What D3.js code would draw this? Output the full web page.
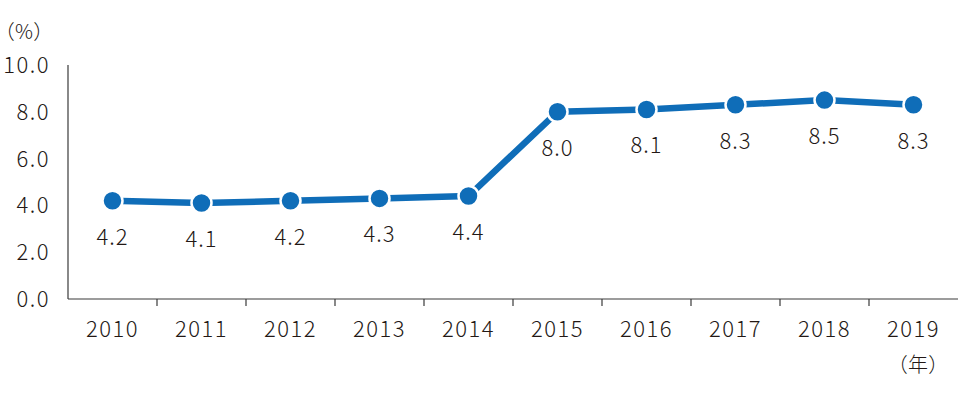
<!DOCTYPE html>
<html>
<head>
<meta charset="utf-8">
<script src="https://cdn.jsdelivr.net/npm/d3@7"></script>
<style>
  body { margin: 0; background: #fff; }
  svg text { font-family: "Noto Sans CJK JP", "Noto Sans", sans-serif; fill: #231815; font-weight: 300; }
  svg text.unit { font-feature-settings: "palt"; }
</style>
</head>
<body>
<svg id="chart"></svg>
<script>
const years = ['2010', '2011', '2012', '2013', '2014', '2015', '2016', '2017', '2018', '2019'];
const rates = [4.2, 4.1, 4.2, 4.3, 4.4, 8.0, 8.1, 8.3, 8.5, 8.3];
const yTicks = [0, 2, 4, 6, 8, 10];

const width = 960;
const height = 397;
const margin = { left: 68, right: 2, top: 65, bottom: 98 };

const svg = d3.select('svg#chart')
    .attr('width', width)
    .attr('height', height);

const x = d3.scaleBand()
    .domain(years)
    .range([margin.left, width - margin.right]);

const y = d3.scaleLinear()
    .domain([0, 10])
    .range([height - margin.bottom, margin.top]);

const ink = '#3a3a3a';
const blue = '#0f6db8';
const cx = (d, i) => x(years[i]) + x.bandwidth() / 2;

// axes ------------------------------------------
svg.append('line')
    .attr('x1', margin.left).attr('x2', margin.left)
    .attr('y1', y(10)).attr('y2', y(0))
    .attr('stroke', ink).attr('stroke-width', 1.2);

svg.append('line')
    .attr('x1', margin.left).attr('x2', width - margin.right)
    .attr('y1', y(0)).attr('y2', y(0))
    .attr('stroke', ink).attr('stroke-width', 1.2);

// ticks between years
svg.selectAll('.xtick')
    .data(years.slice(1))
    .enter()
    .append('line')
    .attr('class', 'xtick')
    .attr('x1', d => x(d)).attr('x2', d => x(d))
    .attr('y1', y(0)).attr('y2', y(0) + 7)
    .attr('stroke', ink).attr('stroke-width', 1.2);

svg.selectAll('.xlabel')
    .data(years)
    .enter()
    .append('text')
    .attr('class', 'xlabel')
    .attr('x', d => x(d) + x.bandwidth() / 2)
    .attr('y', y(0) + 38)
    .attr('text-anchor', 'middle')
    .style('font-size', '22px')
    .style('letter-spacing', '1.5px')
    .text(d => d);

svg.selectAll('.ylabel')
    .data(yTicks)
    .enter()
    .append('text')
    .attr('class', 'ylabel')
    .attr('x', 50)
    .attr('y', d => y(d))
    .attr('dy', '0.36em')
    .attr('text-anchor', 'end')
    .style('font-size', '22px')
    .style('letter-spacing', '1.5px')
    .text(d => d.toFixed(1));

svg.append('text')
    .attr('class', 'unit')
    .attr('x', 4).attr('y', 39)
    .style('font-size', '20px')
    .style('letter-spacing', '1px')
    .text('（%）');

svg.append('text')
    .attr('class', 'unit')
    .attr('x', x('2019') + x.bandwidth() / 2 + 5)
    .attr('y', 372)
    .attr('text-anchor', 'middle')
    .style('font-size', '20px')
    .style('letter-spacing', '1px')
    .text('（年）');

// line + points ---------------------------------
const line = d3.line()
    .x(cx)
    .y(d => y(d));

svg.append('path')
    .datum(rates)
    .attr('d', line)
    .attr('fill', 'none')
    .attr('stroke', blue)
    .attr('stroke-width', 6.5)
    .attr('stroke-linejoin', 'round');

svg.selectAll('.pt')
    .data(rates)
    .enter()
    .append('circle')
    .attr('class', 'pt')
    .attr('cx', cx)
    .attr('cy', d => y(d))
    .attr('r', 10)
    .attr('fill', blue)
    .attr('stroke', '#fff')
    .attr('stroke-width', 2.5);

svg.selectAll('.vlabel')
    .data(rates)
    .enter()
    .append('text')
    .attr('class', 'vlabel')
    .attr('x', cx)
    .attr('y', d => y(d) + 44)
    .attr('text-anchor', 'middle')
    .style('font-size', '22px')
    .style('letter-spacing', '1px')
    .text(d => d.toFixed(1));
</script>
</body>
</html>
